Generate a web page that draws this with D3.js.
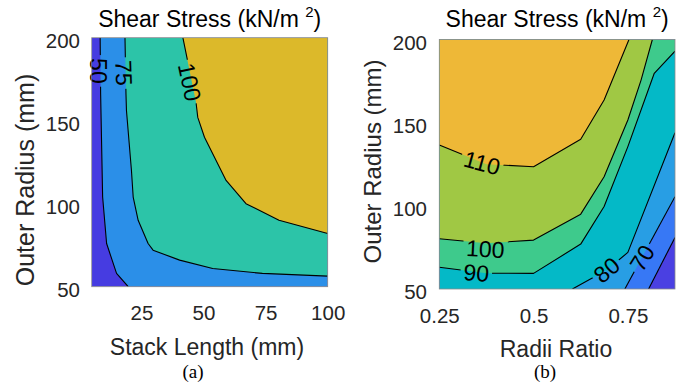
<!DOCTYPE html>
<html><head><meta charset="utf-8">
<script src="https://cdn.jsdelivr.net/npm/d3@7"></script>
<style>
html,body{margin:0;padding:0;background:#fff;}
svg{display:block;font-family:"Liberation Sans",Arial,Helvetica,sans-serif;}
</style></head>
<body><svg id="c" width="686" height="383"></svg>
<script>
// ---------- DATA ----------
// Panel (a): Stack Length (mm) vs Outer Radius (mm)
const aXTicks = [25, 50, 75, 100];
const aYTicks = [50, 100, 150, 200];
const aLevels = [50, 75, 100];
const aColors = ["#463ce1", "#2b8fe8", "#2cc4a8", "#dcb92a"];
const aContour50  = [[8.4,200],[8.6,166],[9.4,104],[11,76],[15,58],[19.7,50]];
const aContour75  = [[18.4,200],[18.8,166],[19,156],[21,120],[21.7,104],[23.7,90],[27.7,76],[29.7,72],[40.4,66],[53.7,61],[73.7,58],[100,56.4]];
const aContour100 = [[41.7,200],[47,161],[47.7,152],[50.4,140],[59.1,114],[67.1,100],[80.4,90],[100,82]];
const aLabelText  = ["50", "75", "100"];
const aLabelX     = [7.7, 17.9, 44.4];
const aLabelY     = [180, 178.7, 173.3];
const aLabelAngle = [90, 88, 78];

// Panel (b): Radii Ratio vs Outer Radius (mm)
const bXTicks = [0.25, 0.5, 0.75];
const bXTickLabels = ["0.25", "0.5", "0.75"];
const bYTicks = [50, 100, 150, 200];
const bLevels = [60, 70, 80, 90, 100, 110];
const bColors = ["#4a40e2", "#3778f5", "#289ee4", "#04b9c7", "#3eca8c", "#a0c844", "#eeb837"];
const bContour60  = [[0.805,50],[0.875,81]];
const bContour70  = [[0.742,50],[0.875,105.5]];
const bContour80  = [[0.603,50],[0.694,61.4],[0.75,72],[0.875,144]];
const bContour90  = [[0.25,63.1],[0.375,59.5],[0.5,59.4],[0.625,77],[0.687,99.6],[0.75,135.6],[0.82,179.7],[0.875,193]];
const bContour100 = [[0.25,80.2],[0.375,77.5],[0.5,79.4],[0.625,95],[0.687,117.5],[0.75,151.6],[0.785,175.6],[0.815,200]];
const bContour110 = [[0.25,136.6],[0.375,125],[0.5,123.5],[0.625,140],[0.687,163.6],[0.753,200]];
const bLabelText  = ["110", "100", "90", "80", "70"];
const bLabelX     = [0.363, 0.372, 0.348, 0.694, 0.788];
const bLabelY     = [125.7, 74, 59.6, 61.4, 68.6];
const bLabelAngle = [15, 3, 4, -40, -58];

// ---------- DRAW ----------
const svg = d3.select("#c");
const TXT = "#262626";

function panel(cfg) {
  const x = d3.scaleLinear().domain(cfg.xDomain).range([cfg.x0, cfg.x1]);
  const y = d3.scaleLinear().domain(cfg.yDomain).range([cfg.y1, cfg.y0]);
  const g = svg.append("g");
  const Wd = cfg.x1 - cfg.x0, Ht = cfg.y1 - cfg.y0, P = 2*(Wd+Ht);
  const clipId = "clip" + cfg.id;
  svg.append("clipPath").attr("id", clipId).append("rect")
    .attr("x", cfg.x0).attr("y", cfg.y0).attr("width", Wd).attr("height", Ht);

  function perim(p) {
    const [px, py] = p;
    const d = [Math.abs(py-cfg.y0), Math.abs(px-cfg.x1), Math.abs(py-cfg.y1), Math.abs(px-cfg.x0)];
    const e = d.indexOf(Math.min(...d));
    if (e===0) return px-cfg.x0;
    if (e===1) return Wd + (py-cfg.y0);
    if (e===2) return Wd + Ht + (cfg.x1-px);
    return 2*Wd + Ht + (cfg.y1-py);
  }
  const corners = [[0,[cfg.x0,cfg.y0]],[Wd,[cfg.x1,cfg.y0]],[Wd+Ht,[cfg.x1,cfg.y1]],[2*Wd+Ht,[cfg.x0,cfg.y1]]];

  const fills = g.append("g").attr("clip-path", `url(#${clipId})`);
  fills.append("rect").attr("x", cfg.x0).attr("y", cfg.y0).attr("width", Wd).attr("height", Ht)
    .attr("fill", cfg.colors[0]);

  cfg.contours.forEach((c, i) => {
    const pts = c.map(d => [x(d[0]), y(d[1])]);
    const sEnd = perim(pts[pts.length-1]), sStart = perim(pts[0]);
    let dist = ((sEnd - sStart) % P + P) % P;
    const extra = corners
      .map(([s, p]) => ({p, k: ((sEnd - s) % P + P) % P}))
      .filter(o => o.k > 0 && o.k < dist)
      .sort((a, b) => a.k - b.k).map(o => o.p);
    const poly = pts.concat(extra);
    fills.append("path").attr("d", "M" + poly.map(p => p.join(",")).join("L") + "Z")
      .attr("fill", cfg.colors[i+1]);
  });

  const maskId = "mask" + cfg.id;
  const mask = svg.append("mask").attr("id", maskId).attr("maskUnits", "userSpaceOnUse")
    .attr("x", 0).attr("y", 0).attr("width", 686).attr("height", 383);
  mask.append("rect").attr("x", 0).attr("y", 0).attr("width", 686).attr("height", 383).attr("fill", "#fff");

  const lines = g.append("g").attr("clip-path", `url(#${clipId})`)
    .append("g").attr("mask", `url(#${maskId})`);
  const lineGen = d3.line().x(d => x(d[0])).y(d => y(d[1]));
  cfg.contours.forEach(c => {
    lines.append("path").attr("d", lineGen(c)).attr("fill", "none")
      .attr("stroke", "#000").attr("stroke-width", 1.1).attr("stroke-linejoin", "round");
  });

  const labs = g.append("g");
  cfg.labelText.forEach((t, i) => {
    const tr = `translate(${x(cfg.labelX[i])},${y(cfg.labelY[i])}) rotate(${cfg.labelAngle[i]})`;
    const tx = labs.append("text").attr("transform", tr)
      .attr("text-anchor", "middle").attr("dominant-baseline", "central")
      .attr("font-size", 23).attr("fill", "#000").text(t);
    const bb = tx.node().getBBox();
    mask.append("rect").attr("transform", tr)
      .attr("x", bb.x - 3).attr("y", bb.y + 2).attr("width", bb.width + 6).attr("height", bb.height - 4)
      .attr("fill", "#000");
  });

  g.append("rect").attr("x", cfg.x0).attr("y", cfg.y0).attr("width", Wd).attr("height", Ht)
    .attr("fill", "none").attr("stroke", "#8a8a8a").attr("stroke-width", 0.8);

  const xa = g.append("g").attr("transform", `translate(0,${cfg.y1})`)
    .call(d3.axisBottom(x).tickValues(cfg.xTicks).tickSize(0).tickPadding(0)
      .tickFormat((d, i) => cfg.xTickLabels ? cfg.xTickLabels[i] : d));
  xa.select(".domain").remove();
  xa.selectAll("text").attr("font-size", 20.5).attr("fill", TXT)
    .attr("font-family", '"Liberation Sans",Arial,sans-serif')
    .attr("dy", null).attr("y", 26).attr("dominant-baseline", "central");

  const ya = g.append("g").attr("transform", `translate(${cfg.x0},0)`)
    .call(d3.axisLeft(y).tickValues(cfg.yTicks).tickSize(0).tickPadding(0));
  ya.select(".domain").remove();
  ya.selectAll("text").attr("font-size", 20.5).attr("fill", TXT)
    .attr("font-family", '"Liberation Sans",Arial,sans-serif')
    .attr("x", -(cfg.x0 - cfg.yTickRight)).attr("dy", null).attr("y", 2)
    .attr("dominant-baseline", "central").attr("text-anchor", "end");

  const tt = g.append("text").attr("x", (cfg.x0+cfg.x1)/2).attr("y", 27)
    .attr("text-anchor", "middle").attr("font-size", 23).attr("fill", "#000");
  tt.append("tspan").text("Shear Stress (kN/m ");
  tt.append("tspan").attr("font-size", 15).attr("dy", -10).text("2");
  tt.append("tspan").attr("dy", 10).text(")");

  g.append("text").attr("x", cfg.xLabelX).attr("y", cfg.xLabelY).attr("text-anchor", "middle")
    .attr("font-size", 23).attr("fill", TXT).text(cfg.xLabel);
  g.append("text").attr("transform", `translate(${cfg.yLabelX},${cfg.yLabelY}) rotate(-90)`)
    .attr("text-anchor", "middle").attr("dominant-baseline", "central")
    .attr("font-size", cfg.yLabelSize).attr("fill", TXT).text("Outer Radius (mm)");
  g.append("text").attr("x", cfg.capX).attr("y", 378).attr("text-anchor", "middle")
    .attr("font-family", '"Liberation Serif","Times New Roman",serif')
    .attr("font-size", 19).attr("fill", "#000").text(cfg.caption);
}

panel({
  id: "a", xDomain: [5, 100], yDomain: [50, 200],
  x0: 91.7, x1: 327.7, y0: 37.7, y1: 286.7,
  xTicks: aXTicks, yTicks: aYTicks, yTickRight: 80,
  colors: aColors, contours: [aContour50, aContour75, aContour100],
  labelText: aLabelText, labelX: aLabelX, labelY: aLabelY, labelAngle: aLabelAngle,
  xLabel: "Stack Length (mm)", xLabelX: 207, xLabelY: 355,
  yLabelX: 25, yLabelY: 180, yLabelSize: 25,
  capX: 193, caption: "(a)"
});

panel({
  id: "b", xDomain: [0.25, 0.875], yDomain: [50, 200],
  x0: 439.3, x1: 675, y0: 39.5, y1: 289,
  xTicks: bXTicks, xTickLabels: bXTickLabels, yTicks: bYTicks, yTickRight: 427,
  colors: bColors, contours: [bContour60, bContour70, bContour80, bContour90, bContour100, bContour110],
  labelText: bLabelText, labelX: bLabelX, labelY: bLabelY, labelAngle: bLabelAngle,
  xLabel: "Radii Ratio", xLabelX: 556, xLabelY: 356.5,
  yLabelX: 372.5, yLabelY: 161.5, yLabelSize: 24,
  capX: 545, caption: "(b)"
});
</script>
</body></html>
